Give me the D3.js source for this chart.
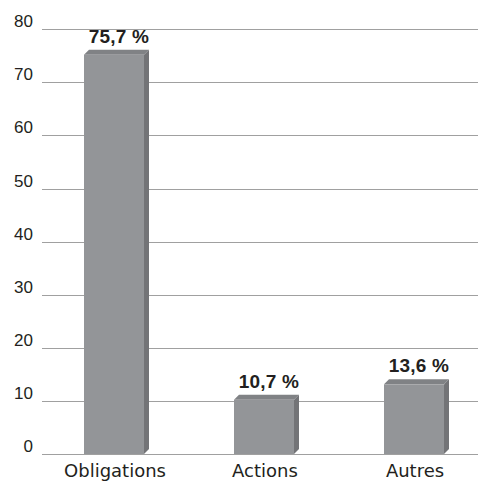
<!DOCTYPE html>
<html><head><meta charset="utf-8">
<script src="https://cdn.jsdelivr.net/npm/d3@7"></script>
<style>body{margin:0;background:#fff}svg{display:block}</style>
</head><body>
<svg id="c" width="478" height="482"></svg>
<script>
const categories = ["Obligations", "Actions", "Autres"];
const values = [75.7, 10.7, 13.6];
const valueLabels = ["75,7 %", "10,7 %", "13,6 %"];
const yTicks = [0, 10, 20, 30, 40, 50, 60, 70, 80];

const svg = d3.select("#c");
const y = d3.scaleLinear().domain([0, 80]).range([454, 29.3]);
const x = d3.scaleBand().domain(categories).range([39, 489]).paddingInner(0.6).paddingOuter(0.3);
const gridL = 42, gridR = 478, dx = 5, dy = 5;
const fontCat = "DejaVu Sans, Verdana, sans-serif";
const fontTick = "Liberation Sans, Arial, Helvetica, sans-serif";
const fontVal = "Liberation Sans, Arial, Helvetica, sans-serif";

svg.append("g").selectAll("line").data(yTicks).join("line")
  .attr("x1", gridL).attr("x2", gridR)
  .attr("y1", d => Math.round(y(d)) + 0.5).attr("y2", d => Math.round(y(d)) + 0.5)
  .attr("stroke", "#a0a0a0").attr("stroke-width", 1);

svg.append("g").selectAll("text").data(yTicks).join("text")
  .attr("x", 33).attr("y", d => y(d) - 2)
  .attr("text-anchor", "end")
  .attr("font-family", fontTick).attr("font-size", 17).attr("fill", "#231f20")
  .text(d => d);

const bars = svg.append("g").selectAll("g").data(categories).join("g");
bars.each(function(c, i) {
  const g = d3.select(this);
  const x0 = x(c), w = x.bandwidth(), yt = y(values[i]) + dy / 2, yb = y(0);
  g.append("path").attr("d", `M${x0+w},${yt} L${x0+w+dx},${yt-dy} L${x0+w+dx},${yb-dy} L${x0+w},${yb} Z`)
    .attr("fill", "#737477");
  g.append("path").attr("d", `M${x0},${yt} L${x0+dx},${yt-dy} L${x0+w+dx},${yt-dy} L${x0+w},${yt} Z`)
    .attr("fill", "#808285");
  g.append("rect").attr("x", x0).attr("y", yt).attr("width", w).attr("height", yb - yt)
    .attr("fill", "#939598");
  g.append("text").attr("x", x0 + w/2 + dx).attr("y", yt - dy - 7)
    .attr("text-anchor", "middle").attr("font-family", fontVal).attr("font-weight", "bold")
    .attr("font-size", 19).attr("letter-spacing", 0.2).attr("fill", "#231f20").text(valueLabels[i]);
  g.append("text").attr("x", x0 + w/2 + 1).attr("y", 477)
    .attr("text-anchor", "middle").attr("font-family", fontCat)
    .attr("font-size", 18).attr("fill", "#231f20").text(c);
});
</script>
</body></html>
